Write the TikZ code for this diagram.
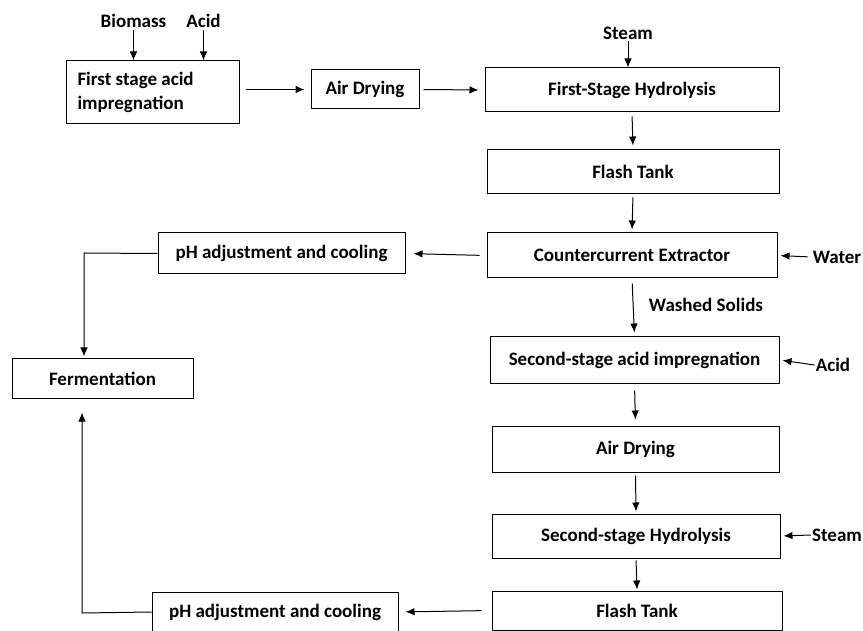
\documentclass[tikz,border=0pt]{standalone}
\usepackage{fontspec}
\setmainfont{Carlito}
\usetikzlibrary{positioning,arrows.meta}

\begin{document}
\begin{tikzpicture}[x=1pt, y=-1pt,
			>={Latex[length=9pt,width=7.5pt]},
			boxnode/.style={draw=black, line width=1pt, inner sep=0pt, font=\bfseries\fontsize{19}{24}\selectfont},
			tagnode/.style={inner sep=1pt, font=\bfseries\fontsize{19}{24}\selectfont},
			flow/.style={->, line width=1pt},
		]
		\useasboundingbox (0,0) rectangle (863,631);
		
			%Nodes
			\node[boxnode, minimum width=173pt, minimum height=63pt, text width=150pt, align=flush left]	(impA)	at (152.5,92.5)	{First stage acid\\impregnation};
			\node[boxnode, minimum width=108pt, minimum height=39pt]	(dryA)	at (365,89.5)	{Air Drying};
			\node[boxnode, minimum width=294pt, minimum height=44pt]	(hydA)	at (632,90)	{First-Stage Hydrolysis};
			\node[boxnode, minimum width=292pt, minimum height=44pt]	(flashA)	at (633,172)	{Flash Tank};
			\node[boxnode, minimum width=290pt, minimum height=45pt]	(extr)	at (632,255.5)	{Countercurrent Extractor};
			\node[boxnode, minimum width=247pt, minimum height=41pt]	(phA)	at (281.5,253.5)	{pH adjustment and cooling};
			\node[boxnode, minimum width=181pt, minimum height=39pt]	(ferm)	at (102.5,378.5)	{Fermentation};
			\node[boxnode, minimum width=289pt, minimum height=46pt]	(impB)	at (634.5,360)	{Second-stage acid impregnation};
			\node[boxnode, minimum width=287pt, minimum height=46pt]	(dryB)	at (635.5,449)	{Air Drying};
			\node[boxnode, minimum width=288pt, minimum height=44pt]	(hydB)	at (636,536)	{Second-stage Hydrolysis};
			\node[boxnode, minimum width=290pt, minimum height=39pt]	(flashB)	at (637,610.5)	{Flash Tank};
			\node[boxnode, minimum width=246pt, minimum height=40pt]	(phB)	at (275,612)	{pH adjustment and cooling};
		
			%Streams
			\node[tagnode]	(biomass)	at (133.5,21)	{Biomass};
			\node[tagnode]	(acidA)	at (203.5,21)	{Acid};
			\node[tagnode]	(steamA)	at (628,33)	{Steam};
			\node[tagnode]	(water)	at (837,257)	{Water};
			\node[tagnode]	(washed)	at (706,305)	{Washed Solids};
			\node[tagnode]	(acidB)	at (833,365)	{Acid};
			\node[tagnode]	(steamB)	at (837,535)	{Steam};
			\coordinate	(bendA)	at (84,253);
			\coordinate	(bendB)	at (82,613);
		
			%Lines
			\draw[flow, shorten <=1pt]	(biomass) -- (biomass |- impA.north);
			\draw[flow, shorten <=1pt]	(acidA) -- (acidA |- impA.north);
			\draw[flow, shorten <=6pt, shorten >=6pt]	(dryA.west -| impA.east) -- (dryA.west);
			\draw[flow, shorten <=4pt, shorten >=6pt]	(dryA.east) -- (hydA.west);
			\draw[flow, shorten <=1pt]	(steamA) -- (steamA |- hydA.north);
			\draw[flow, shorten <=4pt, shorten >=4pt]	(hydA.south) -- (flashA.north);
			\draw[flow, shorten <=3pt, shorten >=3pt]	(flashA.south) -- (extr.north);
			\draw[flow, shorten <=4pt, shorten >=3pt]	(water.west) -- (extr.east);
			\draw[flow, shorten <=7pt, shorten >=8pt]	(extr.west) -- (phA.east);
			\draw[flow, shorten >=2pt]	(phA.west) -- (bendA) -- (bendA |- ferm.north);
			\draw[flow, shorten <=5pt, shorten >=4pt]	(extr.south) -- (impB.north);
			\draw[flow, shorten >=3pt]	(acidB.west) -- (impB.east);
			\draw[flow, shorten <=7pt, shorten >=6pt]	(impB.south) -- (dryB.north);
			\draw[flow, shorten <=3pt, shorten >=2pt]	(dryB.south) -- (hydB.north);
			\draw[flow, shorten >=3pt]	(steamB.west) -- (hydB.east);
			\draw[flow, shorten <=2pt, shorten >=1pt]	(hydB.south) -- (flashB.north);
			\draw[flow, shorten <=10pt, shorten >=7pt]	(flashB.west) -- (phB.east);
			\draw[flow, shorten >=14pt]	(phB.west) -- (bendB) -- (bendB |- ferm.south);
		
		\end{tikzpicture}
\end{document}
